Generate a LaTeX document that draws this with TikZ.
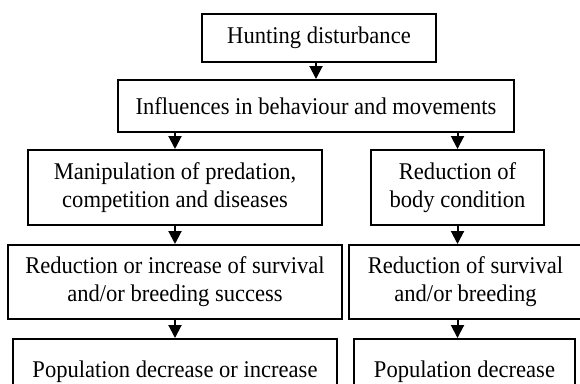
\documentclass[tikz,border=0pt]{standalone}
\usepackage{fontspec}
\setmainfont[FakeStretch=0.94]{Liberation Serif}
\usetikzlibrary{arrows.meta}
\begin{document}
\begin{tikzpicture}[x=1pt,y=-1pt,
  box/.style={draw=black, line width=2pt, inner sep=0pt, align=center,
    font=\fontsize{24}{28}\selectfont},
  arr/.style={draw=black, line width=2pt, -{Triangle[length=13pt,width=13pt]}}]
\fill[white] (0,0) rectangle (580,383);
\useasboundingbox (0,0) rectangle (580,383);
\begin{scope}
\clip (0,0) rectangle (580,383);
\node[box, minimum width=234pt, minimum height=48pt] (hunt) at (319,38) {Hunting disturbance};
\node[box, minimum width=396pt, minimum height=52pt] (infl) at (316,106) {Influences in behaviour and movements};
\node[box, minimum width=294pt, minimum height=75pt] (manip) at (175,187.5) {Manipulation of predation,\\competition and diseases};
\node[box, minimum width=173pt, minimum height=75pt] (body) at (457.5,187.5) {Reduction of\\body condition};
\node[box, minimum width=334pt, minimum height=74pt] (rl) at (175,282) {Reduction or increase of survival\\and/or breeding success};
\node[box, minimum width=233pt, minimum height=74pt] (rr) at (465.5,282) {Reduction of survival\\and/or breeding};
\node[box, minimum width=324pt, minimum height=66pt] (pl) at (175,372) {Population decrease or increase};
\node[box, minimum width=221pt, minimum height=66pt] (pr) at (464.5,372) {Population decrease};
\draw[arr] (hunt.south -| infl.north) -- (infl.north);
\draw[arr] (infl.south -| manip.north) -- (manip.north);
\draw[arr] (infl.south -| body.north) -- (body.north);
\draw[arr] (manip.south) -- (rl.north);
\draw[arr] (body.south) -- (body.south |- rr.north);
\draw[arr] (rl.south) -- (pl.north);
\draw[arr] (body.south |- rr.south) -- (body.south |- pr.north);
\end{scope}
\end{tikzpicture}
\end{document}
